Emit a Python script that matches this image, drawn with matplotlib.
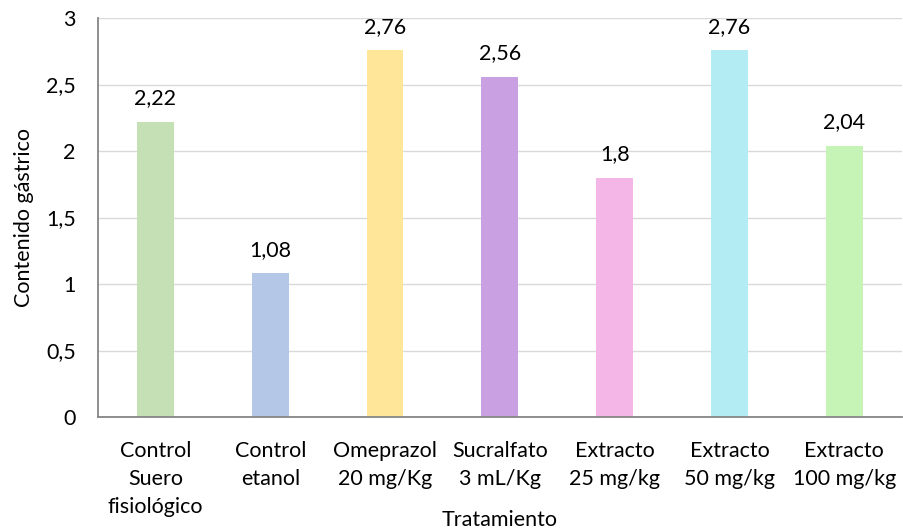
import matplotlib
matplotlib.use("Agg")
import matplotlib.pyplot as plt

plt.rcParams['font.family'] = ['Lato', 'DejaVu Sans']

tratamientos = ['Control\nSuero\nfisiológico', 'Control\netanol', 'Omeprazol\n20 mg/Kg',
                'Sucralfato\n3 mL/Kg', 'Extracto\n25 mg/kg', 'Extracto\n50 mg/kg', 'Extracto\n100 mg/kg']
contenido = [2.22, 1.08, 2.76, 2.56, 1.8, 2.76, 2.04]
colores = ['#c5e0b4', '#b4c7e7', '#ffe699', '#c9a0e2', '#f4b6e6', '#b4ecf4', '#c6f4b6']

fig = plt.figure(figsize=(9.04, 5.31), dpi=100)
ax = fig.add_axes([0.1084, 0.2147, 0.889, 0.7513])

x = range(len(contenido))
bars = ax.bar(x, contenido, width=0.32, color=colores, zorder=2)

# etiqueta con el valor encima de cada barra
for b, v in zip(bars, contenido):
    ax.text(b.get_x() + b.get_width() / 2, v + 0.1, str(v).replace('.', ','),
            ha='center', va='bottom', fontsize=15.5)

ax.set_xlim(-0.5, len(contenido) - 0.5)
ax.set_ylim(0, 3)
ax.set_yticks([0, 0.5, 1, 1.5, 2, 2.5, 3])
ax.set_yticklabels(['0', '0,5', '1', '1,5', '2', '2,5', '3'], fontsize=15.5)
ax.set_xticks(list(x))
ax.set_xticklabels(tratamientos, fontsize=15.5, linespacing=1.5)
ax.tick_params(axis='both', length=0)
ax.tick_params(axis='y', pad=16)
ax.tick_params(axis='x', pad=17)
ax.grid(axis='y', color='#d9d9d9', linewidth=1, zorder=0)

for s in ['top', 'right']:
    ax.spines[s].set_visible(False)
ax.spines['left'].set_color('#868686')
ax.spines['bottom'].set_color('#868686')
ax.spines['left'].set_linewidth(1.3)
ax.spines['bottom'].set_linewidth(1.3)

ax.set_ylabel('Contenido gástrico', fontsize=15.5, labelpad=9)
ax.set_xlabel('Tratamiento', fontsize=15.5, labelpad=-5)

fig.savefig('out.png', dpi=100)
